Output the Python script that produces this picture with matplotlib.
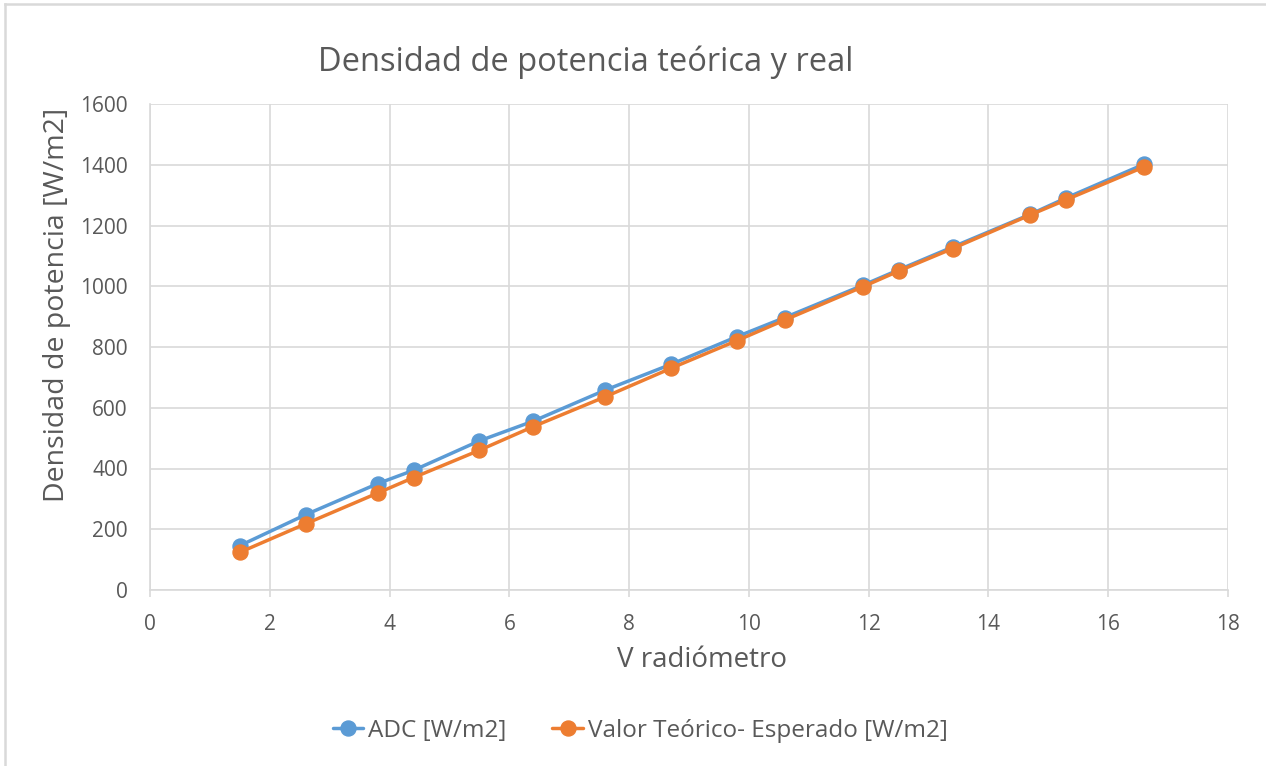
import matplotlib
matplotlib.use("Agg")
import matplotlib.pyplot as plt
from matplotlib.lines import Line2D

plt.rcParams['font.family'] = ['Open Sans', 'DejaVu Sans']

v_radiometro = [1.5, 2.6, 3.8, 4.4, 5.5, 6.4, 7.6, 8.7, 9.8, 10.6, 11.9, 12.5, 13.4, 14.7, 15.3, 16.6]
adc = [146, 248, 350, 394, 491, 556, 658, 743, 834, 897, 1003, 1054, 1129, 1237, 1291, 1402]
teorico = [124, 218, 319, 370, 460, 538, 636, 730, 821, 889, 998, 1050, 1124, 1235, 1285, 1393]

x_ticks = [0, 2, 4, 6, 8, 10, 12, 14, 16, 18]
y_ticks = [0, 200, 400, 600, 800, 1000, 1200, 1400, 1600]

W, H = 1266, 766
fig = plt.figure(figsize=(W / 100, H / 100), dpi=100)
ax = fig.add_axes([150 / W, 1 - 590 / H, (1228 - 150) / W, (590 - 104) / H])

grid_c = '#d9d9d9'
text_c = '#595959'
blue = '#5B9BD5'
orange = '#ED7D31'

ax.plot(v_radiometro, adc, color=blue, lw=2.5, marker='o', ms=10.8, zorder=3,
        label='ADC [W/m2]', solid_capstyle='round')
ax.plot(v_radiometro, teorico, color=orange, lw=2.5, marker='o', ms=10.8, zorder=4,
        label='Valor Teórico- Esperado [W/m2]', solid_capstyle='round')

ax.set_xlim(0, 18)
ax.set_ylim(0, 1600)
ax.set_xticks(x_ticks)
ax.set_yticks(y_ticks)
ax.grid(True, color=grid_c, lw=1.2)
ax.set_axisbelow(True)
for s in ['top', 'right']:
    ax.spines[s].set_visible(False)
for s in ['left', 'bottom']:
    ax.spines[s].set_color(grid_c)
    ax.spines[s].set_linewidth(1.2)
ax.tick_params(axis='x', colors=grid_c, length=5, width=1.2, labelcolor=text_c, labelsize=15, pad=12)
ax.tick_params(axis='y', length=0, labelcolor=text_c, labelsize=15, pad=16)

fig.text(586 / W, 1 - 62 / H, 'Densidad de potencia teórica y real', ha='center', va='center',
         fontsize=23.5, color=text_c)
fig.text(702 / W, 1 - 660 / H, 'V radiómetro', ha='center', va='center', fontsize=20, color=text_c)
fig.text(57 / W, 1 - 305 / H, 'Densidad de potencia [W/m2]', ha='center', va='center',
         fontsize=20.5, color=text_c, rotation=90)

leg = fig.legend(loc='center', bbox_to_anchor=(640 / W, 1 - 731 / H), ncol=2, frameon=False,
                 fontsize=17.5, handlelength=1.25, handletextpad=0.2, columnspacing=1.9,
                 markerscale=1.0)
for t in leg.get_texts():
    t.set_color(text_c)

fig.add_artist(Line2D([5 / W, 1], [1 - 4 / H, 1 - 4 / H], color=grid_c, lw=1.8, transform=fig.transFigure))
fig.add_artist(Line2D([5 / W, 5 / W], [0, 1 - 4 / H], color=grid_c, lw=1.8, transform=fig.transFigure))

fig.savefig('out.png', dpi=100, facecolor='white')
